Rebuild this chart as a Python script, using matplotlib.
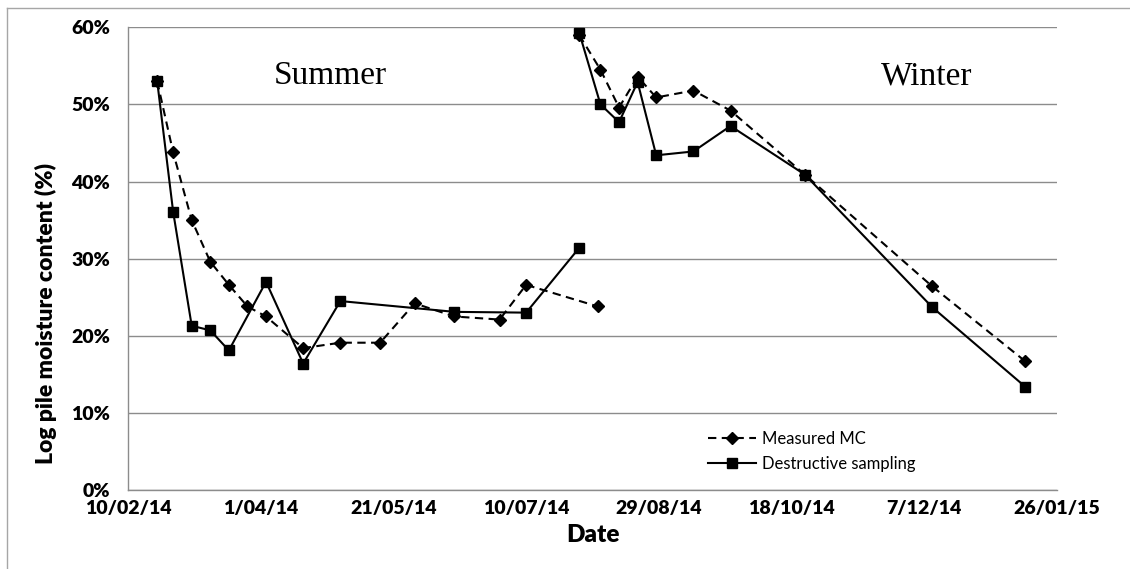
import numpy as np
import matplotlib
matplotlib.use('Agg')
import matplotlib.pyplot as plt
import matplotlib.dates as mdates
import matplotlib.ticker as ticker
from matplotlib.lines import Line2D

#----------data (moisture content, %)----------
summer_mc_dates = ['2014-02-21', '2014-02-27', '2014-03-06', '2014-03-13', '2014-03-20',
                   '2014-03-27', '2014-04-03', '2014-04-17', '2014-05-01', '2014-05-16',
                   '2014-05-29', '2014-06-13', '2014-06-30', '2014-07-10', '2014-08-06']
summer_mc = [53.0, 43.8, 35.0, 29.6, 26.6, 23.8, 22.5, 18.4, 19.1, 19.1,
             24.2, 22.5, 22.1, 26.6, 23.8]

summer_ds_dates = ['2014-02-21', '2014-02-27', '2014-03-06', '2014-03-13', '2014-03-20',
                   '2014-04-03', '2014-04-17', '2014-05-01', '2014-06-13', '2014-07-10',
                   '2014-07-30']
summer_ds = [53.0, 36.1, 21.3, 20.7, 18.1, 27.0, 16.4, 24.5, 23.1, 23.0, 31.4]

winter_dates = ['2014-07-30', '2014-08-07', '2014-08-14', '2014-08-21', '2014-08-28',
                '2014-09-11', '2014-09-25', '2014-10-23', '2014-12-10', '2015-01-14']
winter_mc = [59.0, 54.5, 49.6, 53.6, 50.9, 51.8, 49.2, 40.9, 26.4, 16.7]
winter_ds = [59.3, 50.0, 47.7, 52.9, 43.4, 43.9, 47.2, 40.9, 23.7, 13.4]

x_start = '2014-02-10'
x_end = '2015-01-26'
tick_step_days = 50

def to_dt(lst):
    return np.array(lst, dtype='datetime64[D]')

#=========================figure==============================
W, H = 1130., 569.
fig = plt.figure(figsize=(11.30, 5.69), dpi=100)
ax = fig.add_axes([128/W, 1-490/H, (1057-128)/W, (490-27.3)/H])

grid_c = '#8c8c8c'
mc_style = dict(color='black', linestyle=(0, (4, 2.6)), linewidth=1.5,
                marker='D', markersize=6, markerfacecolor='black', markeredgecolor='black')
ds_style = dict(color='black', linestyle='-', linewidth=1.5,
                marker='s', markersize=7.5, markerfacecolor='black', markeredgecolor='black')

ax.plot(to_dt(summer_mc_dates), summer_mc, **mc_style, zorder=3)
ax.plot(to_dt(winter_dates), winter_mc, **mc_style, zorder=3)
ax.plot(to_dt(summer_ds_dates), summer_ds, **ds_style, zorder=4)
ax.plot(to_dt(winter_dates), winter_ds, **ds_style, zorder=4)

ax.set_ylim(0, 60)
ax.set_xlim(np.datetime64(x_start), np.datetime64(x_end))
ax.yaxis.set_major_locator(ticker.MultipleLocator(10))
ax.yaxis.set_major_formatter(ticker.FuncFormatter(lambda v, p: '%d%%' % v))

ticks = np.arange(np.datetime64(x_start), np.datetime64(x_end) + 1, tick_step_days)
ax.set_xticks(ticks)
ax.xaxis.set_major_formatter(ticker.FuncFormatter(
    lambda v, p: '%d/%s' % (mdates.num2date(v).day, mdates.num2date(v).strftime('%m/%y'))))

ax.grid(axis='y', color=grid_c, linewidth=1.0, zorder=0)
ax.set_axisbelow(True)
for s in ['top', 'right']:
    ax.spines[s].set_visible(False)
for s in ['left', 'bottom']:
    ax.spines[s].set_color(grid_c)
    ax.spines[s].set_linewidth(1.0)
ax.tick_params(length=0, labelsize=14)
ax.tick_params(axis='x', pad=7)
ax.tick_params(axis='y', pad=13)
for lab in ax.get_xticklabels() + ax.get_yticklabels():
    lab.set_fontfamily('Lato')
    lab.set_fontweight('heavy')

ax.set_xlabel('Date', fontsize=17.5, fontweight='heavy', family='Lato', labelpad=5)
ax.set_ylabel('Log pile moisture content (%)', fontsize=16.5, fontweight='heavy',
              family='Lato')
ax.yaxis.set_label_coords(-71/929, (490-313)/462.7)

fig.text(330/W, 1-76/H, 'Summer', fontsize=24, family='Liberation Serif',
         ha='center', va='center')
fig.text(927/W, 1-76/H, 'Winter', fontsize=24, family='Liberation Serif',
         ha='center', va='center')

handles = [Line2D([], [], **mc_style), Line2D([], [], **ds_style)]
ax.legend(handles, ['Measured MC', 'Destructive sampling'], loc='center left',
          bbox_to_anchor=(708/W, 1-451.5/H), bbox_transform=fig.transFigure,
          frameon=False, borderpad=0, borderaxespad=0, handlelength=2.9,
          handletextpad=0.35, labelspacing=0.55, prop={'family': 'Lato', 'size': 12})

# outer chart border
fig.add_artist(Line2D([7/W, 7/W], [0, 1-8/H], color='#a6a6a6', linewidth=1,
                      transform=fig.transFigure))
fig.add_artist(Line2D([7/W, 1], [1-8/H, 1-8/H], color='#a6a6a6', linewidth=1,
                      transform=fig.transFigure))

fig.savefig('out.png', dpi=100)
